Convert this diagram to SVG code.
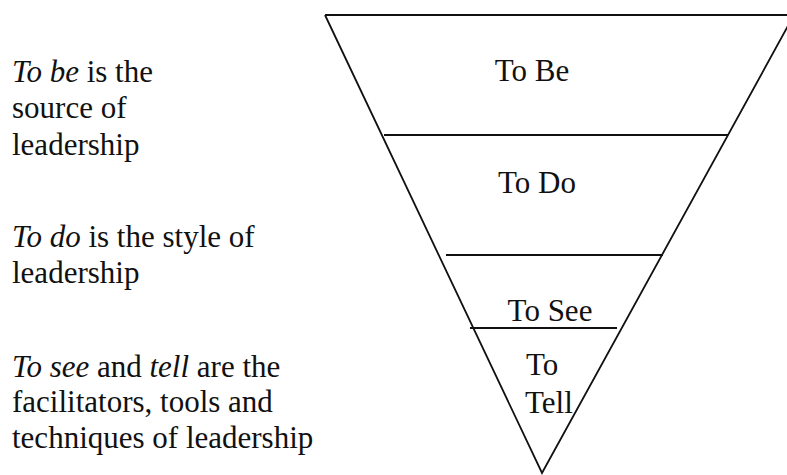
<svg xmlns="http://www.w3.org/2000/svg" width="787" height="475" viewBox="0 0 787 475">
<style>
text{font-size:31px;fill:#111}
.i{font-style:italic}
.ln{stroke:#111;stroke-width:1.8;fill:none}
.c{text-anchor:middle}
</style>
<rect width="787" height="475" fill="#fff"/>
<g id="connectors">
<path class="ln" d="M325,15 L542,473 L794,15"/>
<line class="ln" x1="325" y1="15" x2="787" y2="15"/>
<line class="ln" x1="384" y1="135" x2="728" y2="135"/>
<line class="ln" x1="446" y1="255" x2="663" y2="255"/>
<line class="ln" x1="470" y1="328" x2="617" y2="328"/>
</g>
<g font-family="Liberation Serif, Times New Roman, DejaVu Serif, serif">
<g id="tobe"><text class="c" x="532" y="81">To Be</text></g>
<g id="todo"><text class="c" x="537" y="193">To Do</text></g>
<g id="tosee"><text class="c" x="550" y="321">To See</text></g>
<g id="totell"><text x="526" y="375">To</text><text x="525" y="413">Tell</text></g>
<g id="desc-be">
<text x="12" y="82"><tspan class="i">To be</tspan> is the</text>
<text x="12" y="118">source of</text>
<text x="12" y="155">leadership</text>
</g>
<g id="desc-do">
<text x="12" y="247"><tspan class="i">To do</tspan> is the style of</text>
<text x="12" y="283">leadership</text>
</g>
<g id="desc-see">
<text x="12" y="377"><tspan class="i">To see</tspan> and <tspan class="i">tell</tspan> are the</text>
<text x="12" y="412">facilitators, tools and</text>
<text x="12" y="448">techniques of leadership</text>
</g>
</g>
</svg>
